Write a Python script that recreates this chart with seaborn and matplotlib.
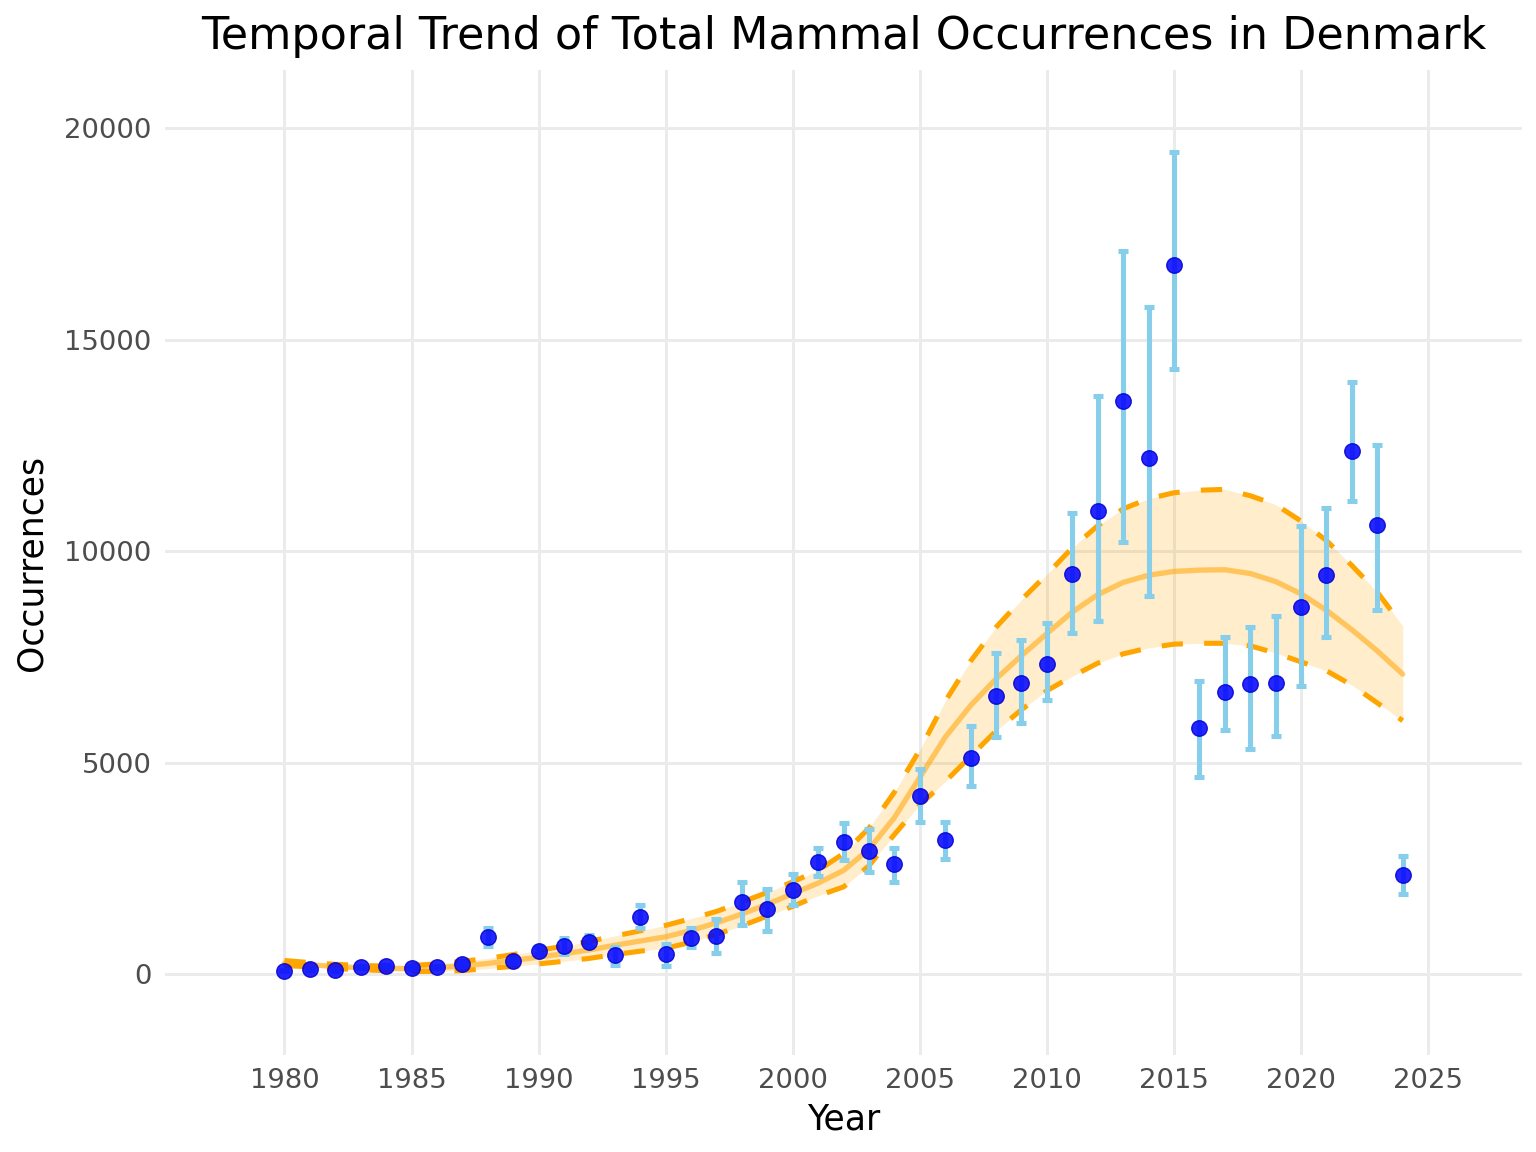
import numpy as np
import pandas as pd
import matplotlib
matplotlib.use("Agg")
import matplotlib.pyplot as plt
import seaborn as sns

years = list(range(1980, 2025))
occurrences = [80, 110, 100, 170, 190, 150, 170, 240, 880, 310,
               550, 670, 760, 450, 1340, 470, 860, 900, 1700, 1530,
               1990, 2640, 3110, 2900, 2600, 4210, 3180, 5110, 6570, 6870,
               7330, 9450, 10950, 13550, 12190, 16760, 5820, 6680, 6850, 6880,
               8670, 9440, 12370, 10610, 2350]
err_low = [60, 90, 80, 140, 160, 120, 140, 200, 670, 260,
           470, 470, 640, 220, 1090, 200, 650, 500, 1170, 1010,
           1630, 2320, 2700, 2420, 2180, 3600, 2730, 4450, 5610, 5940,
           6480, 8070, 8350, 10210, 8950, 14300, 4650, 5760, 5310, 5630,
           6820, 7970, 11180, 8600, 1900]
err_high = [100, 130, 120, 200, 220, 180, 200, 280, 1090, 360,
            630, 860, 920, 650, 1630, 710, 1090, 1300, 2170, 2010,
            2370, 2990, 3580, 3420, 2970, 4840, 3590, 5860, 7580, 7900,
            8310, 10900, 13660, 17090, 15780, 19440, 6940, 7960, 8210, 8470,
            10600, 11020, 13990, 12500, 2780]
fit = [260, 220, 180, 150, 135, 130, 150, 190, 250, 320,
       400, 480, 570, 680, 780, 880, 1030, 1210, 1420, 1650,
       1900, 2150, 2450, 2950, 3700, 4650, 5600, 6350, 6980, 7530,
       8050, 8560, 8970, 9260, 9430, 9520, 9550, 9560, 9470, 9280,
       8990, 8600, 8140, 7640, 7090]
fit_upper = [320, 270, 230, 200, 190, 200, 240, 300, 370, 460,
             560, 660, 770, 900, 1020, 1150, 1310, 1480, 1700, 1930,
             2180, 2450, 2850, 3450, 4300, 5300, 6450, 7400, 8200, 8850,
             9450, 10080, 10600, 11000, 11240, 11380, 11440, 11460, 11310, 11100,
             10710, 10250, 9660, 9030, 8230]
fit_lower = [200, 170, 130, 100, 80, 60, 60, 80, 130, 180,
             240, 300, 370, 460, 540, 610, 750, 940, 1140, 1370,
             1600, 1850, 2060, 2560, 3300, 4000, 4550, 5150, 5750, 6250,
             6700, 7040, 7350, 7570, 7710, 7800, 7820, 7820, 7760, 7590,
             7380, 7170, 6830, 6410, 5990]

x_ticks = [1980, 1985, 1990, 1995, 2000, 2005, 2010, 2015, 2020, 2025]
y_ticks = [0, 5000, 10000, 15000, 20000]

df = pd.DataFrame({"Year": years, "Occurrences": occurrences,
                   "low": err_low, "high": err_high,
                   "fit": fit, "upper": fit_upper, "lower": fit_lower})

sns.set_theme(style="whitegrid")
plt.rcParams["font.family"] = ["DejaVu Sans"]

fig = plt.figure(figsize=(8, 6), dpi=192)
ax = fig.add_axes([0.1074, 0.0842, 0.8836, 0.8548])

ax.fill_between(df["Year"], df["lower"], df["upper"], color="#FFA500",
                alpha=0.2, linewidth=0, zorder=1)
sns.lineplot(data=df, x="Year", y="fit", ax=ax, color="#FFA500", alpha=0.55,
             linewidth=2.0, zorder=2)
for col in ["upper", "lower"]:
    sns.lineplot(data=df, x="Year", y=col, ax=ax, color="#FFA500",
                 linewidth=1.9, dashes=False, zorder=3).lines[-1].set_dashes([4.2, 4.2])

yerr = np.vstack([df["Occurrences"] - df["low"], df["high"] - df["Occurrences"]])
ax.errorbar(df["Year"], df["Occurrences"], yerr=yerr, fmt="none",
            ecolor="#87CEEB", elinewidth=1.9, capsize=2.0, capthick=1.9, zorder=4)
sns.scatterplot(data=df, x="Year", y="Occurrences", ax=ax, color="#0000FF",
                alpha=0.85, s=34, edgecolor="#0000CC", linewidth=0.5, zorder=5)

ax.set_xlim(1975.3, 2028.7)
ax.set_ylim(-1915, 21370)
ax.set_xticks(x_ticks)
ax.set_yticks(y_ticks)
ax.set_xticklabels([str(t) for t in x_ticks])
ax.set_yticklabels([str(t) for t in y_ticks])
ax.grid(True, color="#EBEBEB", linewidth=1.1)
for s in ax.spines.values():
    s.set_visible(False)
ax.tick_params(axis="both", length=0, labelsize=10.3, labelcolor="#4D4D4D", pad=5)
ax.set_xlabel("Year", fontsize=13, color="black", labelpad=3)
ax.set_ylabel("Occurrences", fontsize=13, color="black", labelpad=6)
ax.set_title("Temporal Trend of Total Mammal Occurrences in Denmark",
             fontsize=16.7, color="black", pad=8)
ax.set_facecolor("white")
fig.patch.set_facecolor("white")

fig.savefig("out.png", dpi=192)
